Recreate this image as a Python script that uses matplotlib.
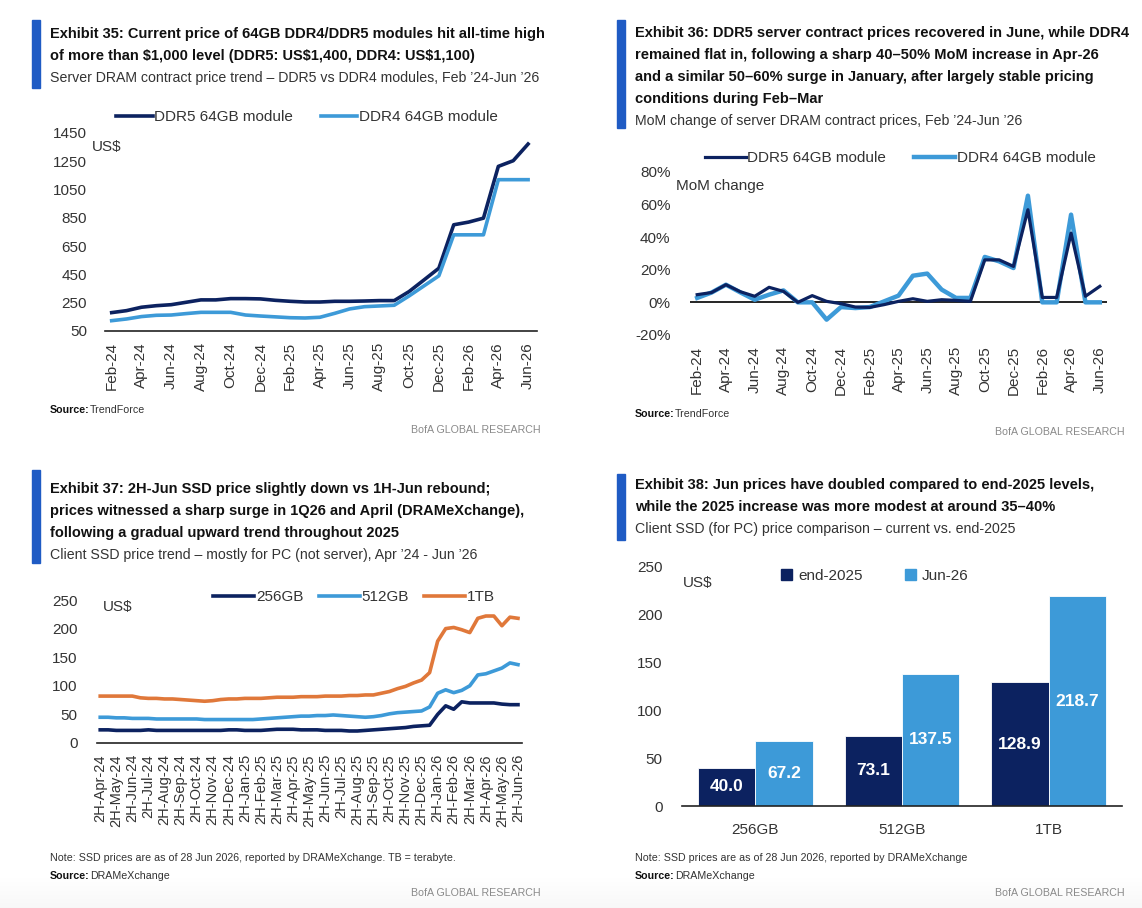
import matplotlib
matplotlib.use('Agg')
import numpy as np
import matplotlib.pyplot as plt
from matplotlib.patches import Rectangle, Patch
from matplotlib.ticker import FuncFormatter

W, H = 1142, 908
plt.rcParams['font.family'] = ['Liberation Sans', 'DejaVu Sans']

DARK = '#0c2260'
LIGHT = '#3d9ad8'
ORANGE = '#e0783a'
BLUE_BAR = '#1f5bc4'
GREY = '#8a8a8a'
TXT = '#333333'
FS = 11         # chart text
FS_HEAD = 10.5  # exhibit titles
FS_SUB = 10.2
FS_FOOT = 7.7

# --- data ---------------------------------------------------------------
months = ['Feb-24', 'Mar-24', 'Apr-24', 'May-24', 'Jun-24', 'Jul-24', 'Aug-24', 'Sep-24',
          'Oct-24', 'Nov-24', 'Dec-24', 'Jan-25', 'Feb-25', 'Mar-25', 'Apr-25', 'May-25',
          'Jun-25', 'Jul-25', 'Aug-25', 'Sep-25', 'Oct-25', 'Nov-25', 'Dec-25', 'Jan-26',
          'Feb-26', 'Mar-26', 'Apr-26', 'May-26', 'Jun-26']

ddr5_price = [180, 194, 218, 229, 236, 253, 270, 270, 279, 279, 277, 267, 260, 255, 255,
              260, 260, 262, 265, 265, 329, 411, 494, 801, 820, 848, 1214, 1254, 1372]
ddr4_price = [123, 135, 152, 161, 163, 173, 182, 182, 182, 163, 156, 150, 144, 142, 147,
              175, 206, 222, 227, 232, 298, 369, 440, 730, 730, 730, 1120, 1120, 1120]

ddr5_mom = [4.7, 6.0, 10.8, 6.5, 3.7, 9.2, 6.7, 0.0, 4.1, 0.6, -0.8, -2.9, -3.1, -1.4, 0.6,
            2.2, 0.6, 1.6, 1.2, 0.6, 26.0, 26.0, 22.0, 56.7, 3.0, 3.0, 42.4, 3.7, 9.8]
ddr4_mom = [2.7, 6.0, 10.8, 6.1, 1.6, 4.7, 7.3, 0.0, 0.0, -10.6, -2.9, -3.5, -2.9, 0.6, 4.1,
            16.3, 17.6, 7.8, 2.7, 2.7, 27.8, 25.1, 21.0, 65.3, 0.0, 0.0, 53.7, 0.0, 0.0]

ssd_ticks = ['2H-Apr-24', '2H-May-24', '2H-Jun-24', '2H-Jul-24', '2H-Aug-24', '2H-Sep-24',
             '2H-Oct-24', '2H-Nov-24', '2H-Dec-24', '2H-Jan-25', '2H-Feb-25', '2H-Mar-25',
             '2H-Apr-25', '2H-May-25', '2H-Jun-25', '2H-Jul-25', '2H-Aug-25', '2H-Sep-25',
             '2H-Oct-25', '2H-Nov-25', '2H-Dec-25', '2H-Jan-26', '2H-Feb-26', '2H-Mar-26',
             '2H-Apr-26', '2H-May-26', '2H-Jun-26']
# half-monthly points, 2H-Apr-24 .. 2H-Jun-26
ssd_256 = [23, 23, 22, 22, 22, 22, 23, 22, 22, 22, 22, 22, 22, 22, 22, 22, 23, 23, 22, 22,
           22, 23, 24, 24, 24, 23, 23, 23, 22, 22, 22, 21, 21, 22, 23, 24, 25, 26, 27, 29,
           30, 31, 50, 65, 59, 72, 70, 70, 70, 70, 68, 67, 67]
ssd_512 = [45, 45, 44, 44, 43, 43, 43, 42, 42, 42, 42, 42, 42, 41, 41, 41, 41, 41, 41, 41,
           42, 43, 44, 45, 46, 47, 47, 48, 48, 49, 48, 47, 46, 45, 46, 48, 51, 53, 54, 55,
           56, 63, 87, 93, 88, 92, 100, 119, 121, 126, 131, 140, 137]
ssd_1tb = [82, 82, 82, 82, 82, 79, 78, 78, 77, 77, 76, 75, 74, 73, 74, 76, 77, 77, 78, 78,
           78, 79, 80, 80, 80, 81, 81, 81, 82, 82, 82, 83, 83, 84, 84, 87, 90, 95, 99, 105,
           110, 123, 178, 200, 202, 198, 193, 218, 222, 222, 205, 220, 218]

bar_cats = ['256GB', '512GB', '1TB']
end_2025 = [40.0, 73.1, 128.9]
jun_26 = [67.2, 137.5, 218.7]

# --- helpers ------------------------------------------------------------
fig = plt.figure(figsize=(W / 100, H / 100), dpi=100, facecolor='white')

# faint grey fade at the very bottom of the page
bg = fig.add_axes([0, 0, 1, 32 / H], zorder=-5)
bg.imshow(np.linspace(0, 0.06, 50).reshape(-1, 1), cmap='Greys', vmin=0, vmax=1,
          aspect='auto', extent=[0, 1, 0, 1])
bg.axis('off')


def add_ax(l, t, r, b):
    ax = fig.add_axes([l / W, 1 - b / H, (r - l) / W, (b - t) / H])
    for s in ['top', 'right', 'left', 'bottom']:
        ax.spines[s].set_visible(False)
    ax.tick_params(length=0, labelsize=FS, labelcolor=TXT)
    ax.set_facecolor('none')
    return ax


def base_line(ax):
    ax.spines['bottom'].set_visible(True)
    ax.spines['bottom'].set_color('#222222')
    ax.spines['bottom'].set_linewidth(1.2)


def ftext(x, y, s, **kw):
    kw.setdefault('va', 'center')
    kw.setdefault('color', TXT)
    return fig.text(x / W, 1 - y / H, s, **kw)


def header(xbar, ytop, ybot, xtext, y0, bold_lines, sub):
    fig.patches.append(Rectangle((xbar / W, 1 - ybot / H), 8 / W, (ybot - ytop) / H,
                                 transform=fig.transFigure, color=BLUE_BAR))
    for j, s in enumerate(bold_lines):
        ftext(xtext, y0 + 22 * j, s, weight='bold', fontsize=FS_HEAD, color='#111111')
    ftext(xtext, y0 + 22 * len(bold_lines), sub, fontsize=FS_SUB)


def footer(x, y_src, src, xr, y_bofa, note=None):
    if note:
        ftext(x, y_src - 18, note, fontsize=FS_FOOT)
    ftext(x, y_src, 'Source:', fontsize=FS_FOOT, weight='bold', color='#111111')
    ftext(x + 40, y_src, src, fontsize=FS_FOOT)
    ftext(xr, y_bofa, 'BofA GLOBAL RESEARCH', fontsize=FS_FOOT, color=GREY, ha='right')


def legend_at(ax, cx, cy, handles=None, labels=None, **kw):
    opts = dict(loc='center', bbox_to_anchor=(cx / W, 1 - cy / H), bbox_transform=fig.transFigure,
                frameon=False, fontsize=FS, labelcolor=TXT)
    opts.update(kw)
    if handles is None:
        return ax.legend(**opts)
    return ax.legend(handles, labels, **opts)


# --- Exhibit 35 ---------------------------------------------------------
header(32, 20, 88, 50, 34,
       ['Exhibit 35: Current price of 64GB DDR4/DDR5 modules hit all-time high',
        'of more than $1,000 level (DDR5: US$1,400, DDR4: US$1,100)'],
       'Server DRAM contract price trend \u2013 DDR5 vs DDR4 modules, Feb \u201924-Jun \u201926')

x = np.arange(len(months))
ax1 = add_ax(105, 133, 537, 331)
ax1.plot(x, ddr5_price, color=DARK, lw=2.6, label='DDR5 64GB module')
ax1.plot(x, ddr4_price, color=LIGHT, lw=2.6, label='DDR4 64GB module')
ax1.set_ylim(50, 1450)
ax1.set_yticks(range(50, 1451, 200))
ax1.set_xlim(-0.45, 28.6)
ax1.set_xticks(x[::2])
ax1.set_xticklabels(months[::2], rotation=90)
base_line(ax1)
ax1.tick_params(axis='y', pad=13)
ax1.tick_params(axis='x', pad=8)
legend_at(ax1, 307, 117, ncol=2, handlelength=2.4, handletextpad=0.1, columnspacing=1.8)
ftext(92, 147, 'US$', fontsize=FS)
footer(50, 410, 'TrendForce', 541, 430)

# --- Exhibit 36 ---------------------------------------------------------
header(617, 20, 128, 635, 33,
       ['Exhibit 36: DDR5 server contract prices recovered in June, while DDR4',
        'remained flat in, following a sharp 40\u201350% MoM increase in Apr-26',
        'and a similar 50\u201360% surge in January, after largely stable pricing',
        'conditions during Feb\u2013Mar'],
       'MoM change of server DRAM contract prices, Feb \u201924-Jun \u201926')

ax2 = add_ax(690, 171.7, 1107, 335)
ax2.axhline(0, color='black', lw=1.2)
ax2.plot(x, ddr4_mom, color=LIGHT, lw=3.2, label='DDR4 64GB module')
ax2.plot(x, ddr5_mom, color=DARK, lw=2.3, label='DDR5 64GB module')
ax2.set_ylim(-20, 80)
ax2.set_yticks(range(-20, 81, 20))
ax2.yaxis.set_major_formatter(FuncFormatter(lambda v, p: f'{v:.0f}%'))
ax2.set_xlim(-0.5, 28.5)
ax2.set_xticks(x[::2])
ax2.set_xticklabels(months[::2], rotation=90)
ax2.tick_params(axis='y', pad=14)
ax2.tick_params(axis='x', pad=8)
h, l = ax2.get_legend_handles_labels()
legend_at(ax2, 900, 158, h[::-1], l[::-1], ncol=2, handlelength=2.7, handletextpad=0.1,
          columnspacing=1.8)
ftext(676, 186, 'MoM change', fontsize=FS)
footer(635, 414, 'TrendForce', 1125, 432)

# --- Exhibit 37 ---------------------------------------------------------
header(32, 470, 563, 50, 489,
       ['Exhibit 37: 2H-Jun SSD price slightly down vs 1H-Jun rebound;',
        'prices witnessed a sharp surge in 1Q26 and April (DRAMeXchange),',
        'following a gradual upward trend throughout 2025'],
       'Client SSD price trend \u2013 mostly for PC (not server), Apr \u201924 - Jun \u201926')

k = np.arange(len(ssd_256))
ax3 = add_ax(97, 600, 522, 743)
ax3.plot(k, ssd_256, color=DARK, lw=2.6, label='256GB')
ax3.plot(k, ssd_512, color=LIGHT, lw=2.6, label='512GB')
ax3.plot(k, ssd_1tb, color=ORANGE, lw=2.6, label='1TB')
ax3.set_ylim(0, 250)
ax3.set_yticks(range(0, 251, 50))
ax3.set_xlim(-0.4, 52.5)
ax3.set_xticks(k[::2])
ax3.set_xticklabels(ssd_ticks, rotation=90, fontsize=10.5)
base_line(ax3)
ax3.tick_params(axis='y', pad=14)
ax3.tick_params(axis='x', pad=8)
legend_at(ax3, 354, 597, ncol=3, handlelength=2.7, handletextpad=0.1, columnspacing=1.0)
ftext(103, 607, 'US$', fontsize=FS)
footer(50, 876, 'DRAMeXchange', 541, 893,
       note='Note: SSD prices are as of 28 Jun 2026, reported by DRAMeXchange. TB = terabyte.')

# --- Exhibit 38 ---------------------------------------------------------
header(617, 474, 540, 635, 485,
       ['Exhibit 38: Jun prices have doubled compared to end-2025 levels,',
        'while the 2025 increase was more modest at around 35\u201340%'],
       'Client SSD (for PC) price comparison \u2013 current vs. end-2025')

xb = np.arange(len(bar_cats))
bw = 0.39
ax4 = add_ax(682, 566, 1122, 806)
b1 = ax4.bar(xb - bw / 2, end_2025, bw, color=DARK, edgecolor='white', lw=0.6, label='end-2025')
b2 = ax4.bar(xb + bw / 2, jun_26, bw, color=LIGHT, edgecolor='white', lw=0.6, label='Jun-26')
for bars in (b1, b2):
    ax4.bar_label(bars, fmt='%.1f', label_type='center', color='white', weight='bold',
                  fontsize=12.5)
ax4.set_ylim(0, 250)
ax4.set_yticks(range(0, 251, 50))
ax4.set_xlim(-0.5, 2.5)
ax4.set_xticks(xb)
ax4.set_xticklabels(bar_cats)
base_line(ax4)
ax4.tick_params(axis='y', pad=14)
ax4.tick_params(axis='x', pad=12)
legend_at(ax4, 875, 576, [Patch(color=DARK), Patch(color=LIGHT)], ['end-2025', 'Jun-26'],
          ncol=2, handlelength=0.7, handleheight=0.7, handletextpad=0.4, columnspacing=2.8)
ftext(683, 583, 'US$', fontsize=FS)
footer(635, 876, 'DRAMeXchange', 1125, 893,
       note='Note: SSD prices are as of 28 Jun 2026, reported by DRAMeXchange')

fig.savefig('out.png', dpi=100, facecolor='white')
